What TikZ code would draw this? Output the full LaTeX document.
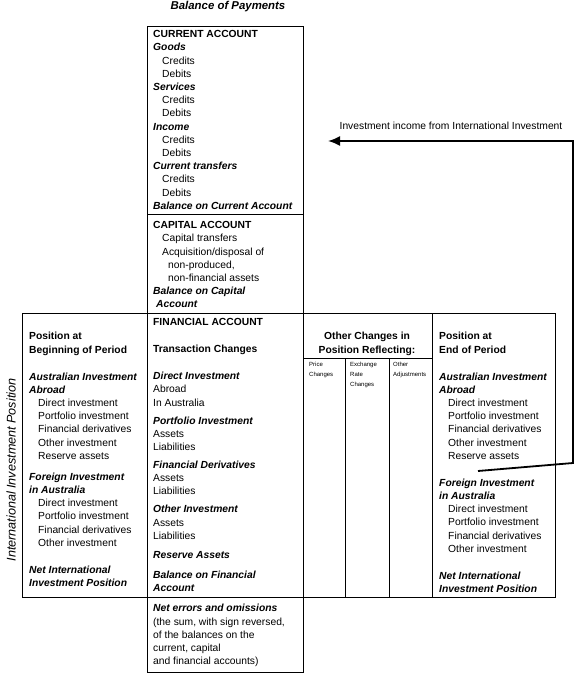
\documentclass[tikz,border=0pt]{standalone}
\usepackage{fontspec}
\setmainfont{Liberation Sans}
\usetikzlibrary{arrows.meta}

\newcommand{\hd}[1]{\textbf{\textit{#1}}}
\newcommand{\indt}{\hspace*{9pt}}

\begin{document}
\begin{tikzpicture}[x=1pt, y=-1pt]
  \tikzstyle{frame} = [draw, line width=0.7pt]
  \tikzstyle{entry} = [anchor=north west, inner sep=0pt, align=left,
    font=\fontsize{10.3}{13.2}\selectfont]
  \tikzstyle{tiny} = [anchor=north west, inner sep=0pt, align=left,
    font=\fontsize{6}{9.8}\selectfont]
  \tikzstyle{line} = [draw, line width=1.8pt, -{Latex[length=12pt,width=10pt]}]

  \useasboundingbox (0,0) rectangle (582,679);

  % Draw boxes
  \draw [frame] (147,26) rectangle (303,313);
  \draw [frame] (147,214) -- (303,214);
  \draw [frame] (22,313) rectangle (555,597);
  \draw [frame] (147,313) -- (147,597);
  \draw [frame] (303,313) -- (303,597);
  \draw [frame] (432,313) -- (432,597);
  \draw [frame] (303,358) -- (432,358);
  \draw [frame] (345,358) -- (345,597);
  \draw [frame] (389,358) -- (389,597);
  \draw [frame] (147,597) rectangle (303,672);

  % Place nodes
  \node [font=\fontsize{11.4}{13}\selectfont\bfseries\itshape] (title) at (228,7)
    {Balance of Payments};

  \node [entry] (current) at (153,30.3) {\textbf{CURRENT ACCOUNT}\\
    \hd{Goods}\\ \indt Credits\\ \indt Debits\\
    \hd{Services}\\ \indt Credits\\ \indt Debits\\
    \hd{Income}\\ \indt Credits\\ \indt Debits\\
    \hd{Current transfers}\\ \indt Credits\\ \indt Debits\\
    \hd{Balance on Current Account}};

  \node [entry] (capital) at (153,221.3) {\textbf{CAPITAL ACCOUNT}\\
    \indt Capital transfers\\
    \indt Acquisition/disposal of\\
    \hspace*{15pt}non-produced,\\
    \hspace*{15pt}non-financial assets\\
    \hd{Balance on Capital}\\
    \hspace*{3pt}\hd{Account}};

  \node [entry] (begin) at (29,332.3) {\textbf{Position at}\\
    \textbf{Beginning of Period}\\[13.8pt]
    \hd{Australian Investment}\\ \hd{Abroad}\\
    \indt Direct investment\\ \indt Portfolio investment\\
    \indt Financial derivatives\\ \indt Other investment\\
    \indt Reserve assets\\[7.8pt]
    \hd{Foreign Investment}\\ \hd{in Australia}\\
    \indt Direct investment\\ \indt Portfolio investment\\
    \indt Financial derivatives\\ \indt Other investment\\[13.8pt]
    \hd{Net International}\\ \hd{Investment Position}};

  \node [entry] (financial) at (153,318.3) {\textbf{FINANCIAL ACCOUNT}\\[13.8pt]
    \textbf{Transaction Changes}\\[13.8pt]
    \hd{Direct Investment}\\ Abroad\\ In Australia\\[4.8pt]
    \hd{Portfolio Investment}\\ Assets\\ Liabilities\\[4.8pt]
    \hd{Financial Derivatives}\\ Assets\\ Liabilities\\[4.8pt]
    \hd{Other Investment}\\ Assets\\ Liabilities\\[5.8pt]
    \hd{Reserve Assets}\\[6.8pt]
    \hd{Balance on Financial}\\ \hd{Account}};

  \node [entry, anchor=north, align=center] (other) at (367,332.3)
    {\textbf{Other Changes in}\\ \textbf{Position Reflecting:}};
  \node [tiny] (price) at (309,362) {Price\\Changes};
  \node [tiny] (exchange) at (350,362) {Exchange\\Rate\\Changes};
  \node [tiny] (adjust) at (393,362) {Other\\Adjustments};

  \node [entry] (end) at (439,332.3) {\textbf{Position at}\\
    \textbf{End of Period}\\[13.8pt]
    \hd{Australian Investment}\\ \hd{Abroad}\\
    \indt Direct investment\\ \indt Portfolio investment\\
    \indt Financial derivatives\\ \indt Other investment\\
    \indt Reserve assets\\[13.8pt]
    \hd{Foreign Investment}\\ \hd{in Australia}\\
    \indt Direct investment\\ \indt Portfolio investment\\
    \indt Financial derivatives\\ \indt Other investment\\[13.8pt]
    \hd{Net International}\\ \hd{Investment Position}};

  \node [entry] (errors) at (153,604.3) {\hd{Net errors and omissions}\\
    (the sum, with sign reversed,\\ of the balances on the\\
    current, capital\\ and financial accounts)};

  \node [rotate=90, font=\fontsize{12.6}{14}\selectfont\itshape] (iip) at (11,470)
    {International Investment Position};

  \node [font=\fontsize{10.3}{12}\selectfont] (income) at (451,126)
    {Investment income from International Investment};

  \coordinate (iipout) at (478,471);
  \coordinate (bend) at (573,463);
  \coordinate (incomein) at (328,141);

  % Draw edges
  \path [line] (iipout) -- (bend) |- (incomein);
\end{tikzpicture}
\end{document}
